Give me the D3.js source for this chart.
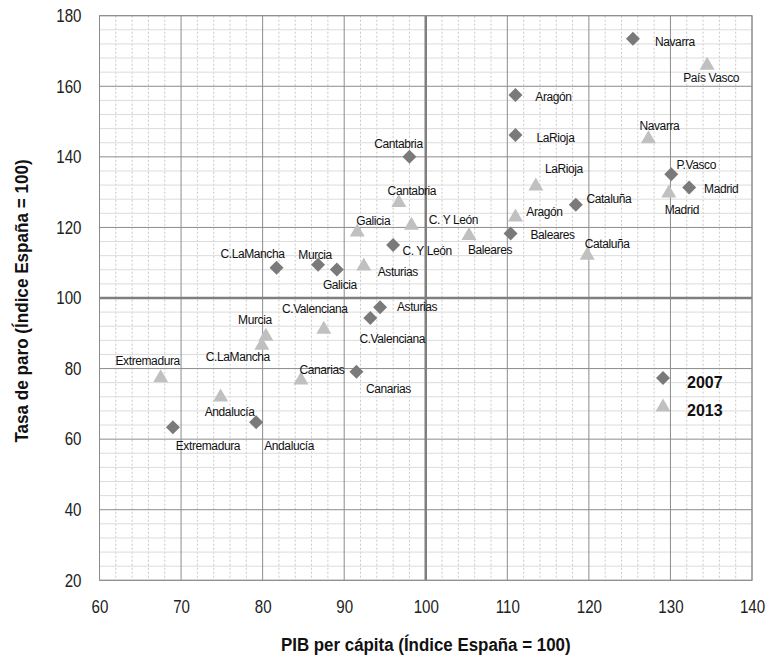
<!DOCTYPE html>
<html>
<head>
<meta charset="utf-8">
<script src="https://cdn.jsdelivr.net/npm/d3@7"></script>
<style>
  body { margin: 0; background: white; }
  .tick text { font-family: "Liberation Sans", Arial, sans-serif; font-size: 18px; fill: #222; }
  .lbl { font-family: "Liberation Sans", sans-serif; font-size: 12px; fill: #111; letter-spacing: -0.4px; }
  .ttl { font-family: "Liberation Sans", sans-serif; font-size: 19px; font-weight: bold; fill: #111; }
</style>
</head>
<body>
<div class="wrapper"></div>
<script>
const w = 769
const h = 658
const plotLeft = 99.5
const plotRight = 752
const plotTop = 15.7
const plotBottom = 580.3
const narrow = 0.84

const labels2007 = ["Navarra", "Aragón", "LaRioja", "Cantabria", "P.Vasco", "Madrid", "Cataluña", "Baleares", "C. Y León",
  "C.LaMancha", "Murcia", "Galicia", "Asturias", "C.Valenciana", "Canarias", "Extremadura", "Andalucía"]
const pib2007 = [125.4, 111.0, 111.0, 98.0, 130.1, 132.3, 118.4, 110.4, 96.0, 81.7, 86.8, 89.1, 94.4, 93.2, 91.5, 69.0, 79.2]
const paro2007 = [173.5, 157.5, 146.2, 140.0, 135.1, 131.3, 126.4, 118.3, 115.0, 108.6, 109.4, 108.1, 97.4, 94.3, 79.1, 63.4, 64.8]

const labels2013 = ["País Vasco", "Navarra", "LaRioja", "Aragón", "Cataluña", "Madrid", "Cantabria", "C. Y León", "Galicia",
  "Baleares", "Asturias", "C.Valenciana", "Murcia", "C.LaMancha", "Canarias", "Extremadura", "Andalucía"]
const pib2013 = [134.5, 127.3, 113.5, 111.0, 119.8, 129.8, 96.7, 98.25, 91.6, 105.3, 92.4, 87.5, 80.4, 79.9, 84.7, 67.5, 74.85]
const paro2013 = [166.5, 145.7, 132.3, 123.5, 112.7, 130.3, 127.6, 121.2, 119.3, 118.3, 109.6, 91.7, 89.7, 87.2, 77.3, 78.0, 72.5]

const xTicks = [60, 70, 80, 90, 100, 110, 120, 130, 140]
const yTicks = [20, 40, 60, 80, 100, 120, 140, 160, 180]
const seriesNames = ["2007", "2013"]

// label placement (px from marker, label centre)
const off2007 = [[42, 3], [38, 2], [40, 3], [-11, -13], [25, -9], [32, 1], [33, -6], [42, 2], [34, 6],
  [-24, -14], [-3, -10], [3, 16], [37, 0], [22, 21], [32, 17], [35, 19], [33, 24]]
const off2013 = [[4, 15], [11, -11], [28, -15], [29, -3], [20, -9], [13, 19], [13, -10], [42, -3], [16, -9],
  [21, 17], [34, 8], [-9, -18], [-11, -14], [-24, 14], [21, -8], [-13, -15], [9, 17]]

const xScale = d3.scaleLinear().domain([60, 140]).range([plotLeft, plotRight])
const yScale = d3.scaleLinear().domain([20, 180]).range([plotBottom, plotTop])

const svg = d3.select(".wrapper")
  .append("svg")
  .attr("width", w)
  .attr("height", h)

const grid = svg.append("g")

grid.selectAll(".vminor")
  .data(d3.range(62, 140, 2).filter((v) => v % 10 !== 0))
  .enter()
  .append("line")
  .attr("x1", (d) => xScale(d)).attr("x2", (d) => xScale(d))
  .attr("y1", plotTop).attr("y2", plotBottom)
  .attr("stroke", "#c8c8c8")
  .attr("stroke-dasharray", "2,2")

grid.selectAll(".hminor")
  .data(d3.range(24, 180, 4).filter((v) => v % 20 !== 0))
  .enter()
  .append("line")
  .attr("x1", plotLeft).attr("x2", plotRight)
  .attr("y1", (d) => yScale(d)).attr("y2", (d) => yScale(d))
  .attr("stroke", "#dcdcdc")

grid.selectAll(".vmajor")
  .data(xTicks.filter((v) => v !== 100))
  .enter()
  .append("line")
  .attr("x1", (d) => xScale(d)).attr("x2", (d) => xScale(d))
  .attr("y1", plotTop).attr("y2", plotBottom)
  .attr("stroke", "#8c8c8c")

grid.selectAll(".hmajor")
  .data(yTicks.filter((v) => v !== 100))
  .enter()
  .append("line")
  .attr("x1", plotLeft).attr("x2", plotRight)
  .attr("y1", (d) => yScale(d)).attr("y2", (d) => yScale(d))
  .attr("stroke", "#8c8c8c")

grid.append("line")
  .attr("x1", xScale(100)).attr("x2", xScale(100))
  .attr("y1", plotTop).attr("y2", plotBottom)
  .attr("stroke", "#7f7f7f").attr("stroke-width", 2.5)

grid.append("line")
  .attr("x1", plotLeft).attr("x2", plotRight)
  .attr("y1", yScale(100)).attr("y2", yScale(100))
  .attr("stroke", "#7f7f7f").attr("stroke-width", 2.5)

grid.append("rect")
  .attr("x", plotLeft).attr("y", plotTop)
  .attr("width", plotRight - plotLeft).attr("height", plotBottom - plotTop)
  .attr("fill", "none").attr("stroke", "#8c8c8c")

const xAxis = d3.axisBottom(xScale).tickValues(xTicks).tickSize(0).tickPadding(20)
const yAxis = d3.axisLeft(yScale).tickValues(yTicks).tickSize(0).tickPadding(18)

svg.append("g")
  .attr("transform", "translate(0, " + plotBottom + ")")
  .call(xAxis)
  .call((g) => g.select(".domain").remove())
  .call((g) => g.selectAll("text").attr("transform", "scale(" + narrow + ",1)"))

svg.append("g")
  .attr("transform", "translate(" + plotLeft + ", 0)")
  .call(yAxis)
  .call((g) => g.select(".domain").remove())
  .call((g) => g.selectAll("text").attr("x", -18 / narrow).attr("transform", "scale(" + narrow + ",1)"))

const diamond = "M0,-7L7,0L0,7L-7,0Z"
const triangle = "M0,-6.5L7.5,6.5L-7.5,6.5Z"

const pts2007 = labels2007.map((d, i) => ({ name: d, x: pib2007[i], y: paro2007[i], off: off2007[i] }))
const pts2013 = labels2013.map((d, i) => ({ name: d, x: pib2013[i], y: paro2013[i], off: off2013[i] }))

svg.selectAll(".tri")
  .data(pts2013)
  .enter()
  .append("path")
  .attr("d", triangle)
  .attr("transform", (d) => "translate(" + xScale(d.x) + "," + yScale(d.y) + ")")
  .attr("fill", "#c0c0c0")

svg.selectAll(".dia")
  .data(pts2007)
  .enter()
  .append("path")
  .attr("d", diamond)
  .attr("transform", (d) => "translate(" + xScale(d.x) + "," + yScale(d.y) + ")")
  .attr("fill", "#7a7a7a")

svg.selectAll(".l13")
  .data(pts2013)
  .enter()
  .append("text")
  .attr("class", "lbl")
  .attr("x", (d) => xScale(d.x) + d.off[0])
  .attr("y", (d) => yScale(d.y) + d.off[1])
  .attr("text-anchor", "middle")
  .attr("dominant-baseline", "central")
  .text((d) => d.name)

svg.selectAll(".l07")
  .data(pts2007)
  .enter()
  .append("text")
  .attr("class", "lbl")
  .attr("x", (d) => xScale(d.x) + d.off[0])
  .attr("y", (d) => yScale(d.y) + d.off[1])
  .attr("text-anchor", "middle")
  .attr("dominant-baseline", "central")
  .text((d) => d.name)

const legend = svg.append("g").attr("transform", "translate(663, 378)")
legend.append("path").attr("d", diamond).attr("fill", "#7a7a7a")
legend.append("path").attr("d", triangle).attr("fill", "#c0c0c0").attr("transform", "translate(0, 27)")
legend.selectAll("text")
  .data(seriesNames)
  .enter()
  .append("text")
  .attr("x", 24)
  .attr("y", (d, i) => 4 + i * 28)
  .attr("dominant-baseline", "central")
  .attr("font-family", "'Liberation Sans', Arial, sans-serif")
  .attr("font-size", "16px")
  .attr("font-weight", "bold")
  .attr("fill", "#111")
  .text((d) => d)

svg.append("text")
  .attr("class", "ttl")
  .attr("transform", "translate(" + (plotLeft + plotRight) / 2 + ", 645) scale(0.89,1)")
  .attr("text-anchor", "middle")
  .attr("dominant-baseline", "central")
  .text("PIB per cápita (Índice España = 100)")

svg.append("text")
  .attr("class", "ttl")
  .attr("transform", "translate(22, " + 301 + ") rotate(-90) scale(0.9,1)")
  .attr("text-anchor", "middle")
  .attr("dominant-baseline", "central")
  .text("Tasa de paro (Índice España = 100)")
</script>
</body>
</html>
